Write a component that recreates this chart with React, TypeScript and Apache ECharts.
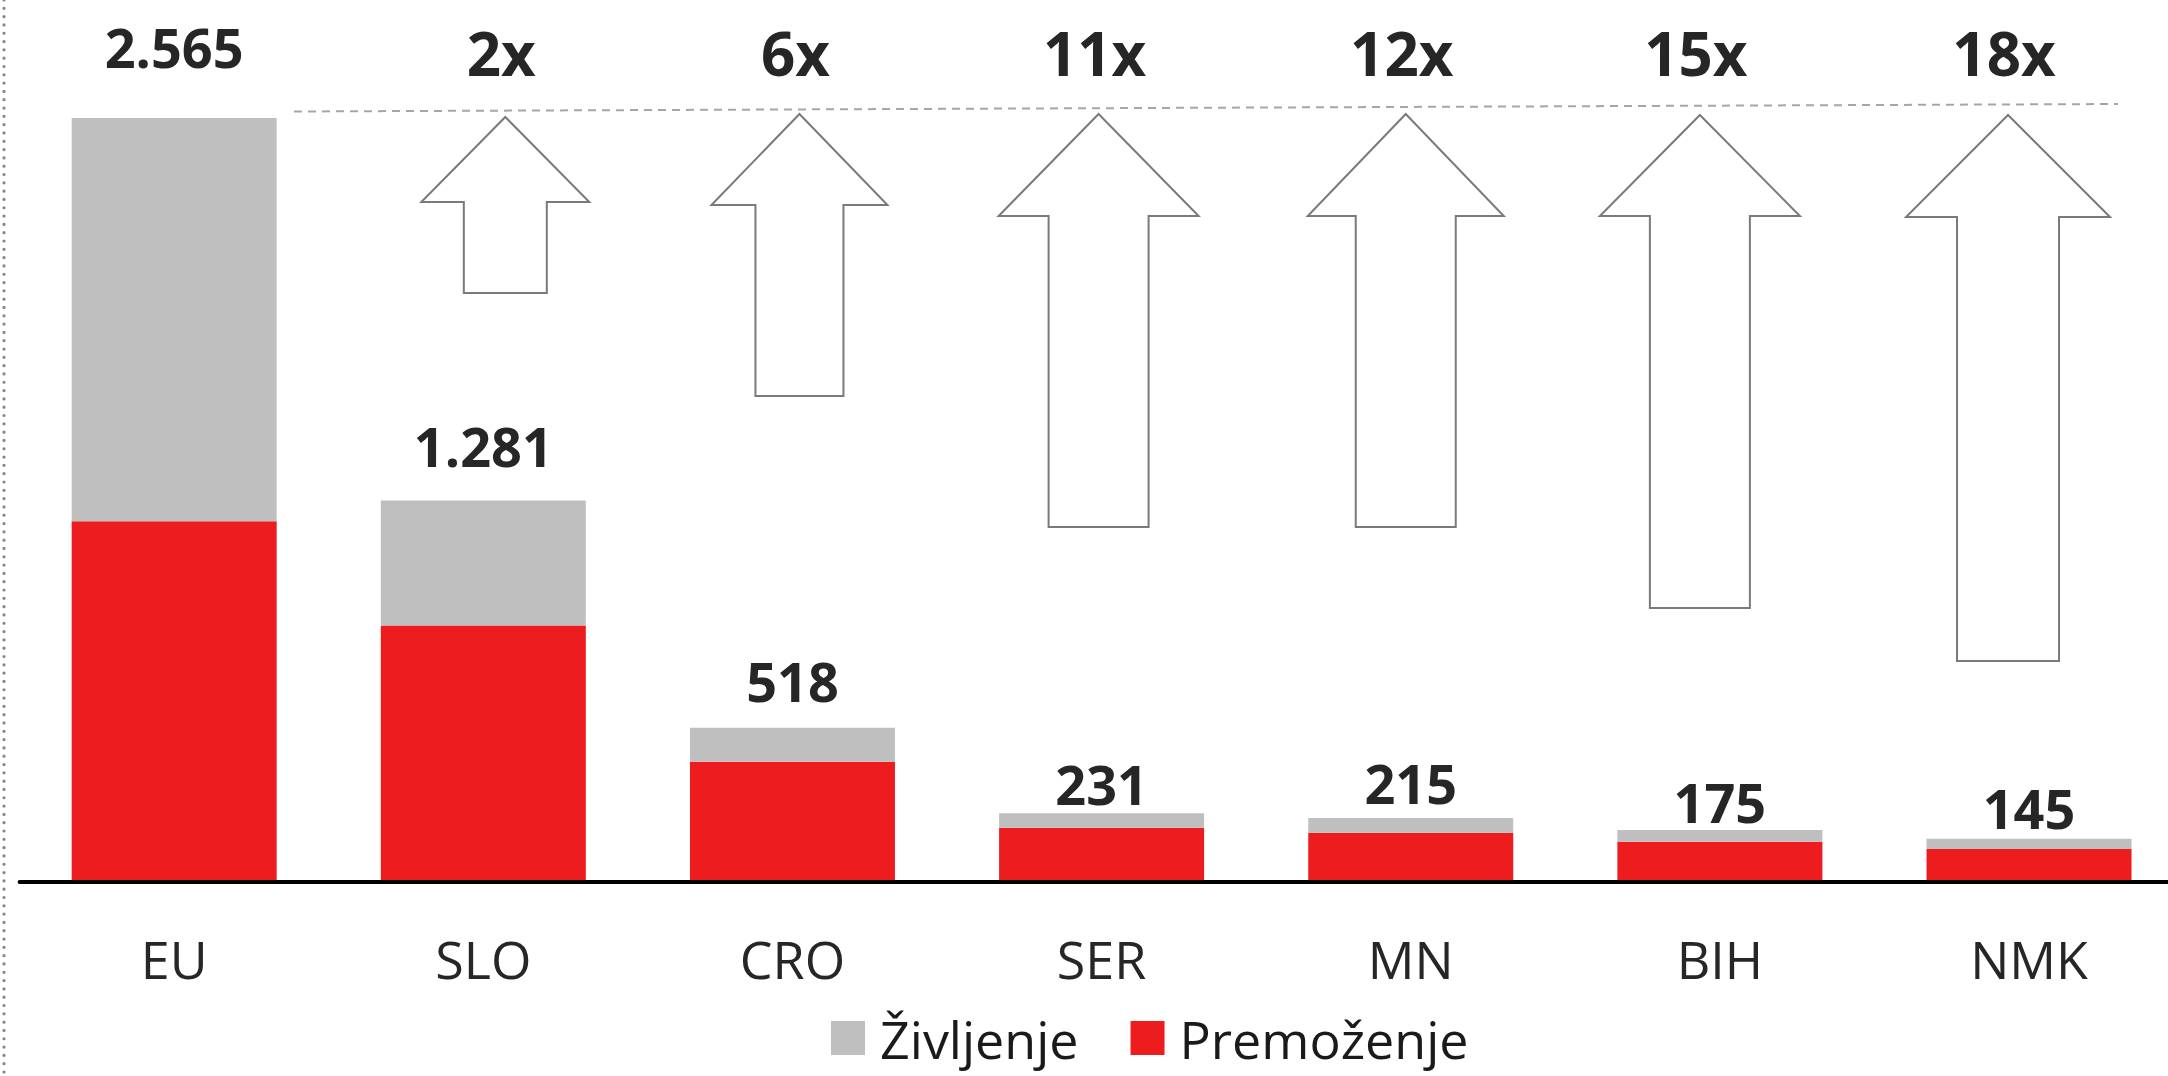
import React, { useEffect, useRef } from "react";
import * as echarts from "echarts";

// ---- data ----
const categories = ["EU", "SLO", "CRO", "SER", "MN", "BIH", "NMK"];
const totals = [2565, 1281, 518, 231, 215, 175, 145];
const premozenje = [1211, 861, 404, 182, 165, 135, 111];
const zivljenje = [1354, 420, 114, 49, 50, 40, 34];
const multipliers = ["2x", "6x", "11x", "12x", "15x", "18x"]; // for SLO..NMK

// ---- layout / style (annotations) ----
const LABEL_LIFT = [45, 28, 21, 3, 9, 2, 5];
const ARROWS = [
  { shift: 22, tip: 117, base: 202, head: 84, shaft: 41.5, bottom: 293 },
  { shift: 7, tip: 114, base: 205, head: 88, shaft: 44, bottom: 396 },
  { shift: -3, tip: 114, base: 216, head: 100, shaft: 50, bottom: 527 },
  { shift: -5, tip: 114, base: 216, head: 98, shaft: 50, bottom: 527 },
  { shift: -20, tip: 115, base: 216, head: 100, shaft: 50, bottom: 608 },
  { shift: -21, tip: 115, base: 217, head: 102, shaft: 51, bottom: 661 },
];

const FONT = "'Open Sans', 'Noto Sans', sans-serif";
const fmt = (n: number) => String(n).replace(/\B(?=(\d{3})+(?!\d))/g, ".");

export default function App() {
  const ref = useRef<HTMLDivElement>(null);
  useEffect(() => {
    const chart = echarts.init(ref.current!, null, { renderer: "svg" });
    chart.setOption({
      animation: false,
      backgroundColor: "#ffffff",
      grid: {
        left: 19.6,
        width: 2164,
        top: 48,
        bottom: 194,
        containLabel: false,
        outerBoundsMode: "none",
      },
      legend: {
        data: ["Življenje", "Premoženje"],
        left: 826,
        top: 1007,
        icon: "rect",
        itemWidth: 34,
        itemHeight: 34,
        itemGap: 52,
        selectedMode: false,
        textStyle: {
          fontSize: 52,
          lineHeight: 44,
          color: "#1a1a1a",
          fontFamily: FONT,
          padding: [0, 0, 0, 10],
        },
      },
      xAxis: {
        type: "category",
        data: categories,
        z: 5,
        axisLine: { show: true, lineStyle: { color: "#000000", width: 4 } },
        axisTick: { show: false },
        axisLabel: { fontSize: 52, color: "#262626", fontFamily: FONT, margin: 50, lineHeight: 52 },
        splitLine: { show: false },
      },
      yAxis: { type: "value", min: 0, max: 2800, show: false, splitLine: { show: false } },
      series: [
        {
          name: "Premoženje",
          type: "bar",
          stack: "total",
          barWidth: 205,
          data: premozenje,
          itemStyle: { color: "#ED1C1E" },
          emphasis: { disabled: true },
        },
        {
          name: "Življenje",
          type: "bar",
          stack: "total",
          barWidth: 205,
          data: zivljenje.map((v, i) => ({ value: v, label: { distance: LABEL_LIFT[i] } })),
          itemStyle: { color: "#BFBFBF" },
          emphasis: { disabled: true },
          label: {
            show: true,
            position: "top",
            formatter: (p: any) => fmt(totals[p.dataIndex]),
            fontSize: 54,
            fontWeight: "bold",
            color: "#262626",
            fontFamily: FONT,
            lineHeight: 52,
          },
        },
      ],
    });

    const graphics: any[] = [];
    graphics.push({
      type: "line",
      silent: true,
      shape: { x1: 4, y1: 0, x2: 4, y2: 1076 },
      style: { stroke: "#858585", lineWidth: 3.2, lineDash: [0.01, 8.3], lineCap: "round" },
    });
    graphics.push({
      type: "line",
      silent: true,
      shape: { x1: 294, y1: 111.5, x2: 2118, y2: 104 },
      style: { stroke: "#a6a6a6", lineWidth: 2, lineDash: [8, 6] },
    });
    multipliers.forEach((m, j) => {
      const a = ARROWS[j];
      const p = chart.convertToPixel({ gridIndex: 0 }, [j + 1, 0]) as number[];
      const cx = p[0] + a.shift;
      graphics.push({
        type: "polygon",
        silent: true,
        shape: {
          points: [
            [cx, a.tip],
            [cx + a.head, a.base],
            [cx + a.shaft, a.base],
            [cx + a.shaft, a.bottom],
            [cx - a.shaft, a.bottom],
            [cx - a.shaft, a.base],
            [cx - a.head, a.base],
          ],
        },
        style: { fill: "#ffffff", stroke: "#7a7a7a", lineWidth: 2 },
      });
      graphics.push({
        type: "text",
        silent: true,
        x: cx - 4,
        y: 53,
        style: {
          text: m,
          fill: "#262626",
          fontSize: 60,
          fontWeight: "bold",
          fontFamily: FONT,
          align: "center",
          verticalAlign: "middle",
        },
      });
    });
    chart.setOption({ graphic: graphics });
    return () => chart.dispose();
  }, []);
  return (
    <div
      ref={ref}
      style={{ position: "fixed", left: 0, top: 0, width: 2168, height: 1076, background: "#fff" }}
    />
  );
}
